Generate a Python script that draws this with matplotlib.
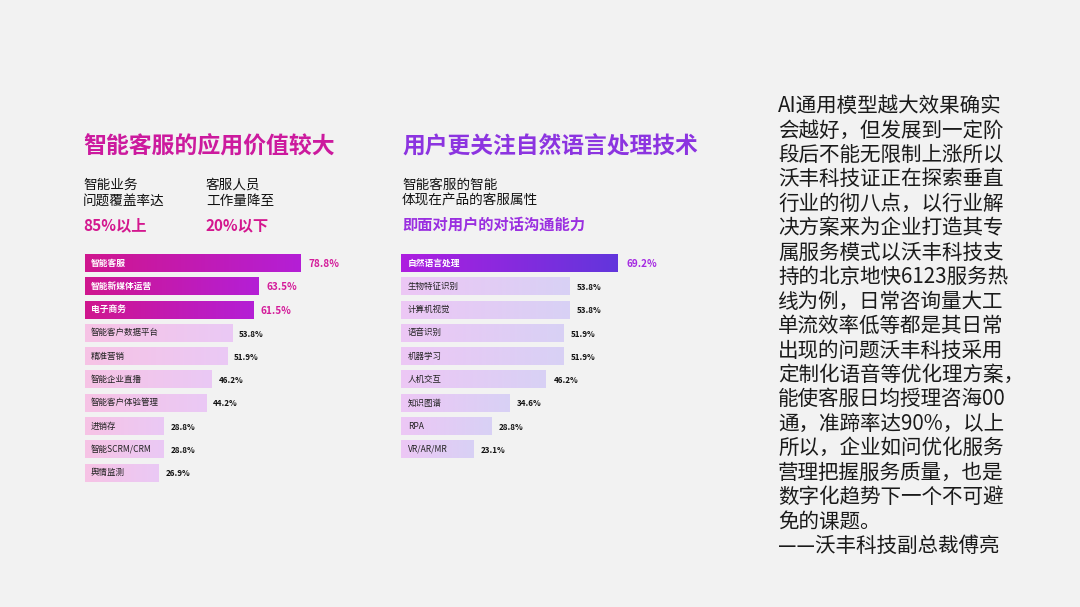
import matplotlib
matplotlib.use("Agg")
import matplotlib.pyplot as plt
import numpy as np
from matplotlib.colors import LinearSegmentedColormap

plt.rcParams['font.family'] = ['Noto Sans CJK SC', 'DejaVu Sans']

# left chart data
left_cats = ['智能客服', '智能新媒体运营', '电子商务', '智能客户数据平台', '精准营销',
             '智能企业直播', '智能客户体验管理', '进销存', '智能SCRM/CRM', '舆情监测']
left_vals = [78.8, 63.5, 61.5, 53.8, 51.9, 46.2, 44.2, 28.8, 28.8, 26.9]
left_top = 3

# right chart data
right_cats = ['自然语言处理', '生物特征识别', '计算机视觉', '语音识别', '机器学习',
              '人机交互', '知识图谱', 'RPA', 'VR/AR/MR']
right_vals = [69.2, 53.8, 53.8, 51.9, 51.9, 46.2, 34.6, 28.8, 23.1]
right_top = 1

quote_lines = ['AI通用模型越大效果确实', '会越好，但发展到一定阶', '段后不能无限制上涨所以',
               '沃丰科技证正在探索垂直', '行业的彻八点，以行业解', '决方案来为企业打造其专',
               '属服务模式以沃丰科技支', '持的北京地快6123服务热', '线为例，日常咨询量大工',
               '单流效率低等都是其日常', '出现的问题沃丰科技采用', '定制化语音等优化理方案，',
               '能使客服日均授理咨海00', '通，准蹄率达90%，以上', '所以，企业如问优化服务',
               '营理把握服务质量，也是', '数字化趋势下一个不可避', '免的课题。', '——沃丰科技副总裁傅亮']

W, H = 1080, 607
BG = '#f2f2f2'
fig = plt.figure(figsize=(W / 100, H / 100), dpi=100, facecolor=BG)


def px_axes(x0, y0, w, h):
    # pixel box (top-left origin) -> figure fraction
    return fig.add_axes([x0 / W, 1 - (y0 + h) / H, w / W, h / H])


row = 23.3
bar_h = 0.77


def draw_bars(ax, cats, vals, ntop, c_top, c_light, val_color, xmax):
    ax.set_xlim(0, xmax)
    ax.set_ylim(len(cats) - 0.5, -0.5)
    ax.axis('off')
    grad = np.linspace(0, 1, 256).reshape(1, -1)
    for i, (c, v) in enumerate(zip(cats, vals)):
        cols = c_top if i < ntop else c_light
        cmap = LinearSegmentedColormap.from_list('g', cols)
        ax.imshow(grad, cmap=cmap, extent=(0, v, i + bar_h / 2, i - bar_h / 2),
                  aspect='auto', interpolation='bicubic', zorder=1)
        if i < ntop:
            ax.text(xmax * 0.022, i, c, color='white', fontsize=6.3, fontweight='bold',
                    va='center', ha='left')
            ax.text(v + xmax * 0.027, i + 0.05, f'{v}%', color=val_color, fontsize=7.2,
                    fontweight='bold', va='center', ha='left')
        else:
            ax.text(xmax * 0.022, i, c, color='#222222', fontsize=6.1,
                    va='center', ha='left')
            ax.text(v + xmax * 0.025, i + 0.05, f'{v}%', color='#111111', fontsize=5.8,
                    fontweight='bold', va='center', ha='left')
    ax.set_ylim(len(cats) - 0.5, -0.5)


# left chart: 2.74 px per percent
axl = px_axes(85, 263 - row / 2, 274, row * len(left_cats))
draw_bars(axl, left_cats, left_vals, left_top, ['#d0168e', '#b41fd6'],
          ['#f7c3e5', '#eac9f5'], '#d41c9a', 100)

# right chart: 3.13 px per percent
axr = px_axes(401, 263 - row / 2, 313, row * len(right_cats))
draw_bars(axr, right_cats, right_vals, right_top, ['#ae1ee0', '#6236dc'],
          ['#edc7f5', '#d8d1f5'], '#a52ae2', 100)

# text layer in pixel coords
ax = fig.add_axes([0, 0, 1, 1])
ax.set_xlim(0, W)
ax.set_ylim(H, 0)
ax.axis('off')

ax.text(83, 147, '智能客服的应用价值较大', color='#cc1a9e', fontsize=16.5,
        fontweight='bold', va='center', ha='left')
ax.text(402, 147, '用户更关注自然语言处理技术', color='#8c34e0', fontsize=16.4,
        fontweight='bold', va='center', ha='left')

ax.text(83, 185, '智能业务', fontsize=9.8, va='center', color='#111111')
ax.text(83, 201, '问题覆盖率达', fontsize=9.8, va='center', color='#111111')
ax.text(206, 185, '客服人员', fontsize=9.8, va='center', color='#111111')
ax.text(206, 201, '工作量降至', fontsize=9.8, va='center', color='#111111')
ax.text(83, 225, '85%以上', fontsize=11, fontweight='bold', va='center', color='#d4178f')
ax.text(206, 225, '20%以下', fontsize=11, fontweight='bold', va='center', color='#d4178f')

ax.text(402, 185, '智能客服的智能', fontsize=9.8, va='center', color='#111111')
ax.text(402, 201, '体现在产品的客服属性', fontsize=9.8, va='center', color='#111111')
ax.text(402, 225, '即面对用户的对话沟通能力', fontsize=11, fontweight='bold', va='center',
        color='#9a2fe0')

for k, line in enumerate(quote_lines):
    ax.text(778, 106 + k * 24.45, line, fontsize=14.8, va='center', ha='left',
            color='#1a1a1a')

fig.savefig('out.png', dpi=100, facecolor=BG)
